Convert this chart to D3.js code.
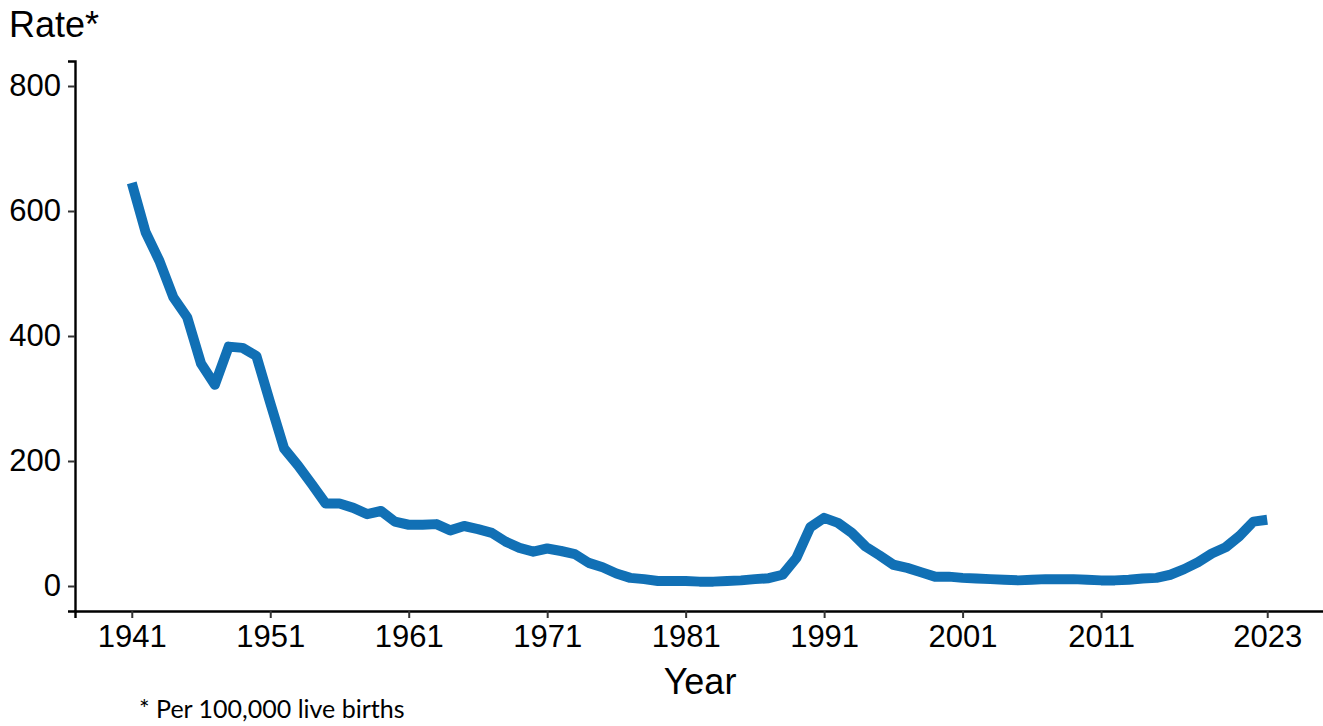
<!DOCTYPE html>
<html>
<head>
<meta charset="utf-8">
<script src="https://cdn.jsdelivr.net/npm/d3@7"></script>
<style>
  html, body { margin: 0; padding: 0; background: #fff; }
  svg { display: block; }
</style>
</head>
<body>
<svg id="chart" width="1323" height="726"></svg>
<script>
const years = d3.range(1941, 2024);
const rates = [
  645, 566, 520, 462, 430, 356, 322, 383, 381, 368,
  293, 220, 193, 163, 132, 132, 125, 115, 120, 103,
  98, 98, 99, 89, 96, 91, 85, 71, 61, 55,
  60, 56, 51, 37, 30, 20, 13, 11, 8, 8,
  8, 7, 7, 8, 9, 11, 12.5, 18, 45, 94,
  109, 101, 85, 63, 49, 34, 29, 22, 15, 15,
  13, 12, 11, 10, 9, 10, 11, 11, 11, 10,
  9, 9, 10, 12, 13, 18, 27, 38, 52, 62,
  80, 103, 106
];
const xTicks = [1941, 1951, 1961, 1971, 1981, 1991, 2001, 2011, 2023];
const yTicks = [0, 200, 400, 600, 800];

const svg = d3.select("#chart");
const plotLeft = 75, plotRight = 1324, plotTop = 61, plotBottom = 611;

const x = d3.scaleLinear().domain([1941 - 0.05 * 82, 2023 + 0.05 * 82]).range([plotLeft, plotRight]);
const y = d3.scaleLinear().domain([-40, 840]).range([plotBottom, plotTop]);

const fontAx = "'Liberation Sans', Arial, sans-serif";

// x axis
const xAxis = svg.append("g").attr("transform", `translate(0,${plotBottom})`)
  .call(d3.axisBottom(x).tickValues(xTicks).tickFormat(d3.format("d")).tickSizeOuter(0).tickSize(7).tickPadding(7));
xAxis.select(".domain").attr("stroke", "#000").attr("stroke-width", 2.4);
xAxis.selectAll(".tick line").attr("stroke", "#333").attr("stroke-width", 2);
xAxis.selectAll(".tick text").attr("font-family", fontAx).attr("font-size", 31).attr("fill", "#000");

// y axis
const yAxis = svg.append("g").attr("transform", `translate(${plotLeft},0)`)
  .call(d3.axisLeft(y).tickValues(yTicks).tickFormat(d3.format("d")).tickSizeOuter(0).tickSize(7).tickPadding(7));
yAxis.select(".domain").attr("stroke", "#000").attr("stroke-width", 2.4);
yAxis.selectAll(".tick line").attr("stroke", "#333").attr("stroke-width", 2);
yAxis.selectAll(".tick text").attr("font-family", fontAx).attr("font-size", 31).attr("fill", "#000");

// line
const line = d3.line().x((d, i) => x(years[i])).y(d => y(d));
svg.append("path")
  .datum(rates)
  .attr("d", line)
  .attr("fill", "none")
  .attr("stroke", "#1170B5")
  .attr("stroke-width", 10)
  .attr("stroke-linejoin", "round");

// titles
svg.append("text").attr("x", 9).attr("y", 37)
  .attr("font-family", fontAx).attr("font-size", 36).attr("fill", "#000").text("Rate*");
svg.append("text").attr("x", 700).attr("y", 694).attr("text-anchor", "middle")
  .attr("font-family", fontAx).attr("font-size", 36).attr("fill", "#000").text("Year");
svg.append("text").attr("x", 139).attr("y", 718)
  .attr("font-family", "Lato, 'Open Sans', sans-serif").attr("font-size", 25).attr("fill", "#000").text("* Per 100,000 live births");
</script>
</body>
</html>
